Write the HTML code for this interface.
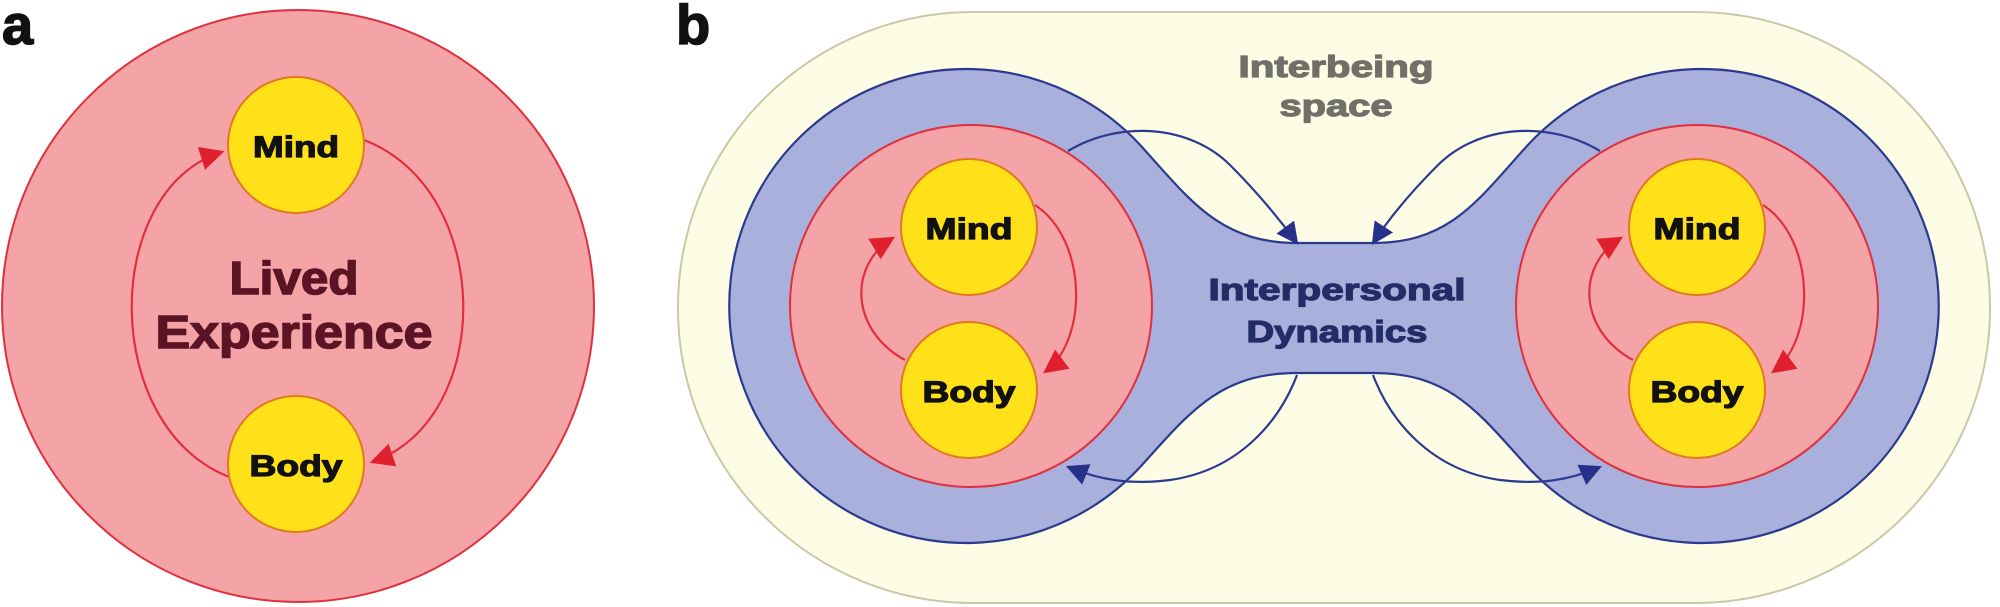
<!DOCTYPE html>
<html><head><meta charset="utf-8"><style>
html,body{margin:0;padding:0;background:#fff;}
svg{display:block;}
text{font-family:"Liberation Sans",Arial,sans-serif;font-weight:bold;}
</style></head><body>
<svg width="2000" height="607" viewBox="0 0 2000 607" xmlns="http://www.w3.org/2000/svg">
<defs>
<marker id="ab" markerWidth="22" markerHeight="22" refX="18" refY="10" orient="auto" markerUnits="userSpaceOnUse" viewBox="0 0 20 20"><path d="M0,0 L20,10 L0,20 Z" fill="#27308a"/></marker>
<marker id="arr" markerWidth="24" markerHeight="24" refX="18" refY="10" orient="auto" markerUnits="userSpaceOnUse" viewBox="0 0 20 20"><path d="M0,0 L20,10 L0,20 Z" fill="#e0202e"/></marker>
</defs>

<!-- Panel a -->
<text x="2" y="44" font-size="56" fill="#111" stroke="#111" stroke-width="1.5">a</text>
<circle cx="298" cy="306" r="296" fill="#f4a3a6" stroke="#e0303e" stroke-width="2"/>
<path d="M232,478 C100,430 100,190 222,152" fill="none" stroke="#e0303e" stroke-width="2.2" marker-end="url(#arr)"/>
<path d="M364,140 C495,190 495,420 372,462" fill="none" stroke="#e0303e" stroke-width="2.2" marker-end="url(#arr)"/>
<circle cx="296" cy="145" r="68" fill="#ffe11a" stroke="#e07a20" stroke-width="2"/>
<circle cx="296" cy="464" r="68" fill="#ffe11a" stroke="#e07a20" stroke-width="2"/>
<g fill="#111" stroke="#111" stroke-width="1.2">
<text x="296" y="157" font-size="30" text-anchor="middle" textLength="86" lengthAdjust="spacingAndGlyphs">Mind</text>
<text x="296" y="476" font-size="30" text-anchor="middle" textLength="93" lengthAdjust="spacingAndGlyphs">Body</text>
</g>
<g fill="#5a1424" stroke="#5a1424" stroke-width="1.5">
<text x="294" y="294" font-size="46" text-anchor="middle" textLength="129" lengthAdjust="spacingAndGlyphs">Lived</text>
<text x="294" y="348" font-size="46" text-anchor="middle" textLength="277" lengthAdjust="spacingAndGlyphs">Experience</text>
</g>

<!-- Panel b -->
<text x="676" y="44" font-size="56" fill="#111" stroke="#111" stroke-width="1.5">b</text>
<rect x="678" y="12" width="1312" height="591" rx="295" ry="295" fill="#fdfde6" stroke="#c9c9a8" stroke-width="2"/>
<path d="M1142,147 C1190,200 1220,243 1297,243 L1373,243 C1450,243 1478,200 1526,147 A237,237 0 1 1 1526,465 C1478,412 1450,373 1373,373 L1297,373 C1220,373 1190,412 1142,465 A237,237 0 1 1 1142,147 Z" fill="#a9b0dc" stroke="#2b3a8f" stroke-width="2.2"/>
<circle cx="971" cy="306" r="181" fill="#f4a3a6" stroke="#e0303e" stroke-width="2"/>
<circle cx="1697" cy="306" r="181" fill="#f4a3a6" stroke="#e0303e" stroke-width="2"/>

<!-- blue arrows -->
<path d="M1068,151 C1120,120 1190,125 1230,165 C1260,195 1280,220 1297,243" fill="none" stroke="#2b3a8f" stroke-width="2.2" marker-end="url(#ab)"/>
<path d="M1600,151 C1548,120 1478,125 1438,165 C1408,195 1388,220 1373,243" fill="none" stroke="#2b3a8f" stroke-width="2.2" marker-end="url(#ab)"/>
<path d="M1297,375 C1280,420 1240,470 1170,480 C1130,485 1100,480 1068,467" fill="none" stroke="#2b3a8f" stroke-width="2.2" marker-end="url(#ab)"/>
<path d="M1373,375 C1390,420 1430,470 1500,480 C1540,485 1570,480 1600,467" fill="none" stroke="#2b3a8f" stroke-width="2.2" marker-end="url(#ab)"/>

<!-- red loops b -->
<path d="M905,360 C850,330 848,265 893,238" fill="none" stroke="#e0303e" stroke-width="2.2" marker-end="url(#arr)"/>
<path d="M1035,205 C1088,240 1088,340 1045,372" fill="none" stroke="#e0303e" stroke-width="2.2" marker-end="url(#arr)"/>
<path d="M1633,360 C1578,330 1576,265 1621,238" fill="none" stroke="#e0303e" stroke-width="2.2" marker-end="url(#arr)"/>
<path d="M1763,205 C1816,240 1816,340 1773,372" fill="none" stroke="#e0303e" stroke-width="2.2" marker-end="url(#arr)"/>

<circle cx="969" cy="227" r="68" fill="#ffe11a" stroke="#e07a20" stroke-width="2"/>
<circle cx="969" cy="390" r="68" fill="#ffe11a" stroke="#e07a20" stroke-width="2"/>
<circle cx="1697" cy="227" r="68" fill="#ffe11a" stroke="#e07a20" stroke-width="2"/>
<circle cx="1697" cy="390" r="68" fill="#ffe11a" stroke="#e07a20" stroke-width="2"/>
<g fill="#111" stroke="#111" stroke-width="1.2">
<text x="969" y="239" font-size="30" text-anchor="middle" textLength="87" lengthAdjust="spacingAndGlyphs">Mind</text>
<text x="969" y="402" font-size="30" text-anchor="middle" textLength="93" lengthAdjust="spacingAndGlyphs">Body</text>
<text x="1697" y="239" font-size="30" text-anchor="middle" textLength="87" lengthAdjust="spacingAndGlyphs">Mind</text>
<text x="1697" y="402" font-size="30" text-anchor="middle" textLength="93" lengthAdjust="spacingAndGlyphs">Body</text>
</g>
<g fill="#707068" stroke="#707068" stroke-width="1.2">
<text x="1336" y="77" font-size="31" text-anchor="middle" textLength="195" lengthAdjust="spacingAndGlyphs">Interbeing</text>
<text x="1336" y="116" font-size="31" text-anchor="middle" textLength="113" lengthAdjust="spacingAndGlyphs">space</text>
</g>
<g fill="#232c66" stroke="#232c66" stroke-width="1.2">
<text x="1337" y="300" font-size="31" text-anchor="middle" textLength="257" lengthAdjust="spacingAndGlyphs">Interpersonal</text>
<text x="1337" y="342" font-size="31" text-anchor="middle" textLength="181" lengthAdjust="spacingAndGlyphs">Dynamics</text>
</g>
</svg>
</body></html>
